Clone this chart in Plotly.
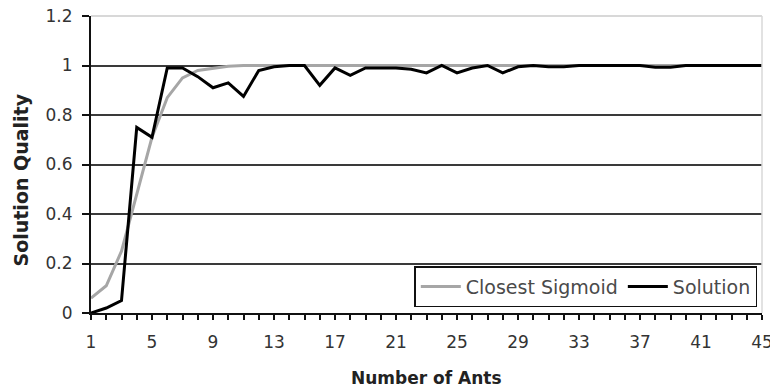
import plotly.graph_objects as go

ants = list(range(1, 46))
solution = [0.00, 0.02, 0.05, 0.75, 0.71, 0.99, 0.99, 0.955, 0.91, 0.93,
            0.875, 0.98, 0.995, 1.0, 1.0, 0.92, 0.99, 0.96, 0.99, 0.99,
            0.99, 0.985, 0.97, 1.0, 0.97, 0.99, 1.0, 0.97, 0.995, 1.0,
            0.995, 0.995, 1.0, 1.0, 1.0, 1.0, 1.0, 0.993, 0.993, 1.0,
            1.0, 1.0, 1.0, 1.0, 1.0]
sigmoid = [0.06, 0.11, 0.25, 0.48, 0.71, 0.87, 0.95, 0.98, 0.99, 0.997,
           1.0, 1.0, 1.0, 1.0, 1.0, 1.0, 1.0, 1.0, 1.0, 1.0,
           1.0, 1.0, 1.0, 1.0, 1.0, 1.0, 1.0, 1.0, 1.0, 1.0,
           1.0, 1.0, 1.0, 1.0, 1.0, 1.0, 1.0, 1.0, 1.0, 1.0,
           1.0, 1.0, 1.0, 1.0, 1.0]
x_labels = [1, 5, 9, 13, 17, 21, 25, 29, 33, 37, 41, 45]
y_ticks = [0, 0.2, 0.4, 0.6, 0.8, 1.0, 1.2]
y_ticktext = ["0", "0.2", "0.4", "0.6", "0.8", "1", "1.2"]

FONT = "DejaVu Sans"

fig = go.Figure()
fig.add_trace(go.Scatter(x=ants, y=sigmoid, mode="lines", name="Closest Sigmoid",
                         line=dict(color="#a6a6a6", width=3)))
fig.add_trace(go.Scatter(x=ants, y=solution, mode="lines", name="Solution",
                         line=dict(color="#000000", width=3)))

fig.update_layout(
    width=770, height=390,
    margin=dict(l=91, r=8, t=16, b=77, autoexpand=False),
    paper_bgcolor="white", plot_bgcolor="white",
    font=dict(family=FONT, size=16, color="#333333"),
    showlegend=True,
    legend=dict(orientation="h", x=0.993, xanchor="right", y=0.02, yanchor="bottom",
                bordercolor="#111111", borderwidth=1.5, bgcolor="white",
                font=dict(family=FONT, size=19, color="#4a4a4a"),
                itemwidth=40, traceorder="normal"),
    xaxis=dict(range=[1, 45], tickmode="array", tickvals=x_labels,
               ticktext=[str(v) for v in x_labels], automargin=False,
               ticklabeloverflow="allow",
               ticks="outside", ticklen=5, tickwidth=1.5, tickcolor="#111111",
               minor=dict(dtick=1, tick0=1, ticks="outside", ticklen=5,
                          tickwidth=1.5, tickcolor="#111111", showgrid=False),
               showline=True, linecolor="#111111", linewidth=2,
               showgrid=False, zeroline=False,
               ticklabelstandoff=8,
               tickfont=dict(family=FONT, size=17, color="#333333")),
    yaxis=dict(range=[0, 1.2], tickmode="array", tickvals=y_ticks, ticktext=y_ticktext,
               automargin=False, ticklabeloverflow="allow",
               ticks="outside", ticklen=7, tickwidth=1.5, tickcolor="#111111",
               showline=True, linecolor="#111111", linewidth=2,
               showgrid=True, gridcolor="#3a3a3a", gridwidth=1.5,
               zeroline=False, ticklabelstandoff=6,
               tickfont=dict(family=FONT, size=17, color="#333333")),
    shapes=[
        dict(type="line", xref="paper", yref="paper", x0=0, x1=1, y0=1, y1=1,
             line=dict(color="#d8d8d8", width=2), layer="above"),
        dict(type="line", xref="paper", yref="paper", x0=1, x1=1, y0=0, y1=1,
             line=dict(color="#d8d8d8", width=1.5), layer="above"),
    ],
    annotations=[
        dict(text="<b>Number of Ants</b>", xref="paper", yref="paper",
             x=0.5, y=-0.219, xanchor="center", yanchor="middle", showarrow=False,
             font=dict(family=FONT, size=17, color="#222222")),
        dict(text="<b>Solution Quality</b>", xref="paper", yref="paper",
             x=-0.105, y=0.448, xanchor="center", yanchor="middle", showarrow=False,
             textangle=-90, font=dict(family=FONT, size=19, color="#222222")),
    ],
)

fig.write_html("out.html", config={"displayModeBar": False},
               post_script="document.body.style.margin='0';document.body.style.overflow='hidden';")
